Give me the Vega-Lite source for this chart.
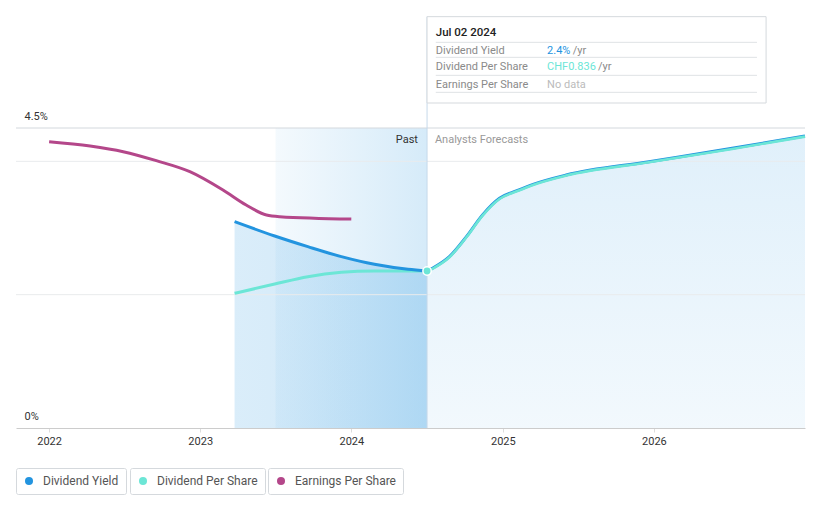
{
  "$schema": "https://vega.github.io/schema/vega-lite/v6.json",
  "width": 789,
  "height": 412,
  "autosize": "none",
  "padding": {"left": 16, "top": 16, "right": 16, "bottom": 80},
  "background": "white",
  "config": {
    "view": {"stroke": null},
    "font": "Roboto",
    "legend": {
      "title": null,
      "strokeColor": "#d5d9dd",
      "padding": 7,
      "cornerRadius": 2,
      "labelFontSize": 12,
      "labelColor": "#555555",
      "labelFont": "Roboto",
      "symbolType": "circle",
      "symbolSize": 64,
      "symbolStrokeWidth": 0,
      "labelOffset": 8,
      "orient": "none"
    }
  },
  "datasets": {
    "one": [{}],
    "eps": [
      {"date": "2022-01-01", "v": 4.295},
      {"date": "2022-04-10", "v": 4.23},
      {"date": "2022-06-29", "v": 4.145},
      {"date": "2022-09-17", "v": 4.01},
      {"date": "2022-12-07", "v": 3.845},
      {"date": "2023-02-25", "v": 3.57},
      {"date": "2023-04-22", "v": 3.345},
      {"date": "2023-06-10", "v": 3.195},
      {"date": "2023-07-12", "v": 3.17},
      {"date": "2024-01-01", "v": 3.135}
    ],
    "yield": [
      {"date": "2023-03-25", "v": 3.095},
      {"date": "2023-06-30", "v": 2.88},
      {"date": "2023-09-18", "v": 2.72},
      {"date": "2023-12-08", "v": 2.57},
      {"date": "2024-02-26", "v": 2.455},
      {"date": "2024-05-17", "v": 2.38},
      {"date": "2024-07-02", "v": 2.355}
    ],
    "dps": [
      {"date": "2023-03-25", "v": 2.02},
      {"date": "2023-06-30", "v": 2.16},
      {"date": "2023-09-18", "v": 2.27},
      {"date": "2023-12-08", "v": 2.335},
      {"date": "2024-02-26", "v": 2.355},
      {"date": "2024-07-02", "v": 2.355}
    ],
    "forecast": [
      {"date": "2024-07-02", "v": 2.355},
      {"date": "2024-07-16", "v": 2.40},
      {"date": "2024-08-25", "v": 2.57},
      {"date": "2024-10-05", "v": 2.87},
      {"date": "2024-11-13", "v": 3.195},
      {"date": "2024-12-24", "v": 3.445},
      {"date": "2025-02-04", "v": 3.56},
      {"date": "2025-03-15", "v": 3.655},
      {"date": "2025-06-03", "v": 3.795},
      {"date": "2025-12-20", "v": 3.995},
      {"date": "2026-07-09", "v": 4.195},
      {"date": "2027-01-01", "v": 4.38}
    ]
  },
  "layer": [
    {
      "data": {"values": [{"start": "2023-07-02", "end": "2024-07-02", "top": 4.5}]},
      "mark": {"type": "rect", "fill": {"gradient": "linear", "x1": 0, "x2": 1, "y1": 0, "y2": 0, "stops": [{"offset": 0, "color": "rgba(35,148,223,0.05)"}, {"offset": 1, "color": "rgba(35,148,223,0.19)"}]}},
      "encoding": {
        "x": {"field": "start", "type": "temporal", "scale": {"domain": [{"year": 2021, "month": 10, "date": 13}, {"year": 2027, "month": 1, "date": 1}]},
          "axis": {"title": null, "format": "%Y", "values": [{"year": 2022, "month": 1, "date": 1}, {"year": 2023, "month": 1, "date": 1}, {"year": 2024, "month": 1, "date": 1}, {"year": 2025, "month": 1, "date": 1}, {"year": 2026, "month": 1, "date": 1}], "grid": false, "domainColor": "#cccccc", "tickColor": "#dddddd", "tickSize": 4, "labelColor": "#333333", "labelFontSize": 11, "labelPadding": 3, "labelFlush": false}},
        "x2": {"field": "end"},
        "y": {"field": "top", "type": "quantitative", "scale": {"domain": [0, 6.18], "nice": false, "zero": true},
          "axis": {"title": null, "values": [0, 4.5], "labelExpr": "datum.value + '%'", "domain": false, "ticks": false, "grid": false, "labelAlign": "left", "labelPadding": -8, "labelBaseline": "bottom", "labelOffset": -7, "labelColor": "#333333", "labelFontSize": 11, "labelFlush": false}},
        "y2": {"datum": 0}
      }
    },
    {
      "data": {"name": "forecast"},
      "mark": {"type": "area", "interpolate": "monotone", "fill": {"gradient": "linear", "x1": 0, "x2": 0, "y1": 0, "y2": 1, "stops": [{"offset": 0, "color": "rgba(35,148,223,0.14)"}, {"offset": 1, "color": "rgba(35,148,223,0.06)"}]}},
      "encoding": {
        "x": {"field": "date", "type": "temporal"},
        "y": {"field": "v", "type": "quantitative"},
        "y2": {"datum": 0}
      }
    },
    {
      "data": {"name": "yield"},
      "mark": {"type": "area", "interpolate": "monotone", "fill": {"gradient": "linear", "x1": 0, "x2": 1, "y1": 0, "y2": 0, "stops": [{"offset": 0, "color": "rgba(35,148,223,0.17)"}, {"offset": 1, "color": "rgba(35,148,223,0.22)"}]}},
      "encoding": {
        "x": {"field": "date", "type": "temporal"},
        "y": {"field": "v", "type": "quantitative"},
        "y2": {"datum": 0}
      }
    },
    {
      "data": {"values": [{"v": 2}, {"v": 4}]},
      "mark": {"type": "rule", "stroke": "#e9ebed", "strokeWidth": 1},
      "encoding": {"y": {"field": "v", "type": "quantitative"}}
    },
    {
      "data": {"values": [{"v": 4.5}]},
      "mark": {"type": "rule", "stroke": "#d3d8dd", "strokeWidth": 1},
      "encoding": {"y": {"field": "v", "type": "quantitative"}}
    },
    {
      "data": {"name": "one"},
      "mark": {"type": "rule", "stroke": "#c6d9ea", "strokeWidth": 1},
      "encoding": {
        "x": {"datum": {"year": 2024, "month": 7, "date": 2}, "type": "temporal"},
        "y": {"datum": 0, "type": "quantitative"},
        "y2": {"datum": 6.17}
      }
    },
    {
      "data": {"name": "eps"},
      "mark": {"type": "line", "interpolate": "monotone", "strokeWidth": 3},
      "encoding": {
        "x": {"field": "date", "type": "temporal"},
        "y": {"field": "v", "type": "quantitative"},
        "color": {"datum": "Earnings Per Share", "scale": {"domain": ["Earnings Per Share"], "range": ["#b4478a"]},
          "legend": {"legendX": 252, "legendY": 452, "symbolFillColor": "#b4478a"}}
      }
    },
    {
      "data": {"name": "dps"},
      "mark": {"type": "line", "interpolate": "monotone", "strokeWidth": 3},
      "encoding": {
        "x": {"field": "date", "type": "temporal"},
        "y": {"field": "v", "type": "quantitative"},
        "color": {"datum": "Dividend Per Share", "scale": {"domain": ["Dividend Per Share"], "range": ["#6ce6d6"]},
          "legend": {"legendX": 114, "legendY": 452, "symbolFillColor": "#6ce6d6"}}
      }
    },
    {
      "data": {"name": "yield"},
      "mark": {"type": "line", "interpolate": "monotone", "strokeWidth": 3},
      "encoding": {
        "x": {"field": "date", "type": "temporal"},
        "y": {"field": "v", "type": "quantitative"},
        "color": {"datum": "Dividend Yield", "scale": {"domain": ["Dividend Yield"], "range": ["#2394df"]},
          "legend": {"legendX": 0, "legendY": 452, "symbolFillColor": "#2394df"}}
      }
    },
    {
      "data": {"name": "forecast"},
      "mark": {"type": "line", "interpolate": "monotone", "strokeWidth": 3, "stroke": "#2394df"},
      "encoding": {
        "x": {"field": "date", "type": "temporal"},
        "y": {"field": "v", "type": "quantitative"}
      }
    },
    {
      "data": {"name": "forecast"},
      "mark": {"type": "line", "interpolate": "monotone", "strokeWidth": 2.6, "stroke": "#6ce6d6", "yOffset": 0.6},
      "encoding": {
        "x": {"field": "date", "type": "temporal"},
        "y": {"field": "v", "type": "quantitative"}
      }
    },
    {
      "data": {"name": "one"},
      "mark": {"type": "circle", "fill": "#6ce6d6", "stroke": "#ffffff", "strokeWidth": 1.5, "size": 70, "opacity": 1},
      "encoding": {
        "x": {"datum": {"year": 2024, "month": 7, "date": 2}, "type": "temporal"},
        "y": {"datum": 2.355, "type": "quantitative"}
      }
    },
    {
      "data": {"name": "one"},
      "mark": {"type": "text", "text": "Past", "align": "right", "baseline": "middle", "fontSize": 11, "color": "#333333"},
      "encoding": {
        "x": {"datum": {"year": 2024, "month": 6, "date": 10}, "type": "temporal"},
        "y": {"datum": 4.32, "type": "quantitative"}
      }
    },
    {
      "data": {"name": "one"},
      "mark": {"type": "text", "text": "Analysts Forecasts", "align": "left", "baseline": "middle", "fontSize": 11, "color": "#999999"},
      "encoding": {
        "x": {"datum": {"year": 2024, "month": 7, "date": 21}, "type": "temporal"},
        "y": {"datum": 4.32, "type": "quantitative"}
      }
    },
    {
      "data": {"name": "one"},
      "mark": {"type": "rect", "fill": "#ffffff", "stroke": "#d5d9dd", "strokeWidth": 1},
      "encoding": {
        "x": {"datum": {"year": 2024, "month": 7, "date": 2}, "type": "temporal"},
        "x2": {"datum": {"year": 2026, "month": 9, "date": 29}},
        "y": {"datum": 6.17, "type": "quantitative"},
        "y2": {"datum": 4.875}
      }
    },
    {
      "data": {"values": [{"v": 5.785}, {"v": 5.56}, {"v": 5.29}, {"v": 5.035}]},
      "mark": {"type": "rule", "stroke": "#dfe2e5", "strokeWidth": 1},
      "encoding": {
        "x": {"datum": {"year": 2024, "month": 7, "date": 23}, "type": "temporal"},
        "x2": {"datum": {"year": 2026, "month": 9, "date": 7}},
        "y": {"field": "v", "type": "quantitative"}
      }
    },
    {
      "data": {"name": "one"},
      "mark": {"type": "text", "text": "Jul 02 2024", "align": "left", "baseline": "middle", "fontSize": 11.5, "fontWeight": 500, "color": "#222222"},
      "encoding": {
        "x": {"datum": {"year": 2024, "month": 7, "date": 23}, "type": "temporal"},
        "y": {"datum": 5.93, "type": "quantitative"}
      }
    },
    {
      "data": {"name": "one"},
      "mark": {"type": "text", "text": "Dividend Yield", "align": "left", "baseline": "middle", "fontSize": 11, "color": "#8a8a8a"},
      "encoding": {
        "x": {"datum": {"year": 2024, "month": 7, "date": 23}, "type": "temporal"},
        "y": {"datum": 5.66, "type": "quantitative"}
      }
    },
    {
      "data": {"name": "one"},
      "mark": {"type": "text", "text": "Dividend Per Share", "align": "left", "baseline": "middle", "fontSize": 11, "color": "#8a8a8a"},
      "encoding": {
        "x": {"datum": {"year": 2024, "month": 7, "date": 23}, "type": "temporal"},
        "y": {"datum": 5.41, "type": "quantitative"}
      }
    },
    {
      "data": {"name": "one"},
      "mark": {"type": "text", "text": "Earnings Per Share", "align": "left", "baseline": "middle", "fontSize": 11, "color": "#8a8a8a"},
      "encoding": {
        "x": {"datum": {"year": 2024, "month": 7, "date": 23}, "type": "temporal"},
        "y": {"datum": 5.14, "type": "quantitative"}
      }
    },
    {
      "data": {"name": "one"},
      "mark": {"type": "text", "text": "2.4%", "align": "left", "baseline": "middle", "fontSize": 11, "color": "#2394df"},
      "encoding": {
        "x": {"datum": {"year": 2025, "month": 4, "date": 18}, "type": "temporal"},
        "y": {"datum": 5.66, "type": "quantitative"}
      }
    },
    {
      "data": {"name": "one"},
      "mark": {"type": "text", "text": "/yr", "align": "left", "baseline": "middle", "fontSize": 11, "color": "#8a8a8a"},
      "encoding": {
        "x": {"datum": {"year": 2025, "month": 6, "date": 19}, "type": "temporal"},
        "y": {"datum": 5.66, "type": "quantitative"}
      }
    },
    {
      "data": {"name": "one"},
      "mark": {"type": "text", "text": "CHF0.836", "align": "left", "baseline": "middle", "fontSize": 11, "color": "#6ce6d6"},
      "encoding": {
        "x": {"datum": {"year": 2025, "month": 4, "date": 18}, "type": "temporal"},
        "y": {"datum": 5.41, "type": "quantitative"}
      }
    },
    {
      "data": {"name": "one"},
      "mark": {"type": "text", "text": "/yr", "align": "left", "baseline": "middle", "fontSize": 11, "color": "#8a8a8a"},
      "encoding": {
        "x": {"datum": {"year": 2025, "month": 8, "date": 19}, "type": "temporal"},
        "y": {"datum": 5.41, "type": "quantitative"}
      }
    },
    {
      "data": {"name": "one"},
      "mark": {"type": "text", "text": "No data", "align": "left", "baseline": "middle", "fontSize": 11, "color": "#bbbbbb"},
      "encoding": {
        "x": {"datum": {"year": 2025, "month": 4, "date": 18}, "type": "temporal"},
        "y": {"datum": 5.14, "type": "quantitative"}
      }
    }
  ],
  "resolve": {"scale": {"color": "independent"}}
}
